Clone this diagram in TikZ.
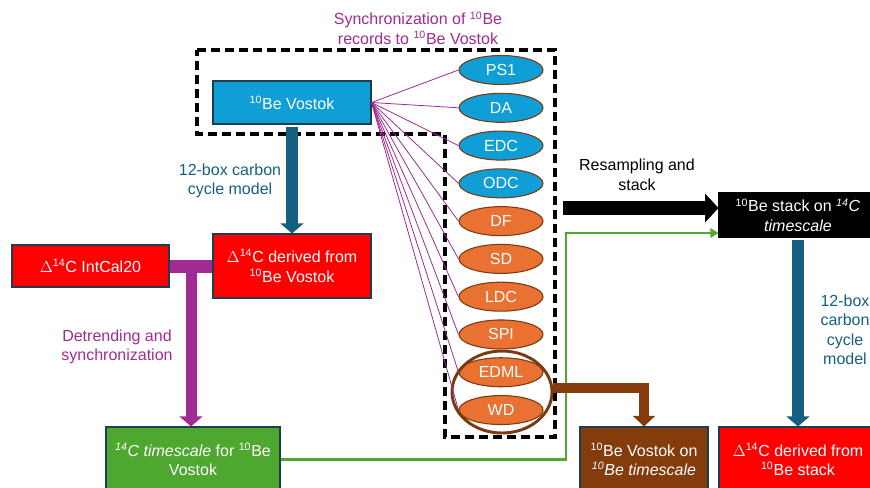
\documentclass[tikz,border=0pt]{standalone}
\usepackage{fontspec}
\setmainfont{Liberation Sans}
\usepackage{tikz}
\usetikzlibrary{arrows.meta,shapes.geometric,calc}
\definecolor{iceblue}{HTML}{0F9ED5}
\definecolor{iceorange}{HTML}{E97132}
\definecolor{modelteal}{HTML}{156082}
\definecolor{syncpurple}{HTML}{A02B93}
\definecolor{tsgreen}{HTML}{4EA72E}
\definecolor{vbrown}{HTML}{843C0C}
\definecolor{ringbrown}{HTML}{7A3A12}
\definecolor{boxedge}{HTML}{1E3D4F}
\tikzstyle{databox}=[draw=boxedge,line width=0.8pt,text=white,align=center,inner sep=0pt,minimum width=118.5pt]
\tikzstyle{core}=[ellipse,draw=ringbrown,line width=0.8pt,text=white,inner sep=0pt,minimum width=63pt,minimum height=21.75pt]
\tikzstyle{fat}=[line width=9pt,-{Triangle[length=7.5pt,width=17pt]}]

\begin{document}
\begin{tikzpicture}[x=0.75pt,y=-0.75pt,font=\fontsize{12}{14.6}\selectfont]
      \tikzset{syncline/.style = {draw=syncpurple,line width=0.6pt}}
      \useasboundingbox (0,0) rectangle (870,487);
      \clip (0,0) rectangle (870,487);
      % synchronization frame
      \draw[line width=2.6pt,dash pattern=on 6.5pt off 4pt]
        (197,50) -- (555,50) -- (555,437) -- (445,437) -- (445,134) -- (197,134) -- cycle;
      \node[text=syncpurple,align=center] (synclab) at (418,28) {Synchronization of \textsuperscript{10}Be\\records to \textsuperscript{10}Be Vostok};
      % boxes
      \node[databox,fill=iceblue,minimum height=32.25pt] (vostok) at (292,102.5) {\textsuperscript{10}Be Vostok};
      \node[databox,fill=red,minimum height=48pt] (dvostok) at (292,266) {$\Delta$\textsuperscript{14}C derived from\\\textsuperscript{10}Be Vostok};
      \node[databox,fill=red,minimum width=117.75pt,minimum height=31.5pt] (intcal) at (90.5,266) {$\Delta$\textsuperscript{14}C IntCal20};
      \node[databox,fill=tsgreen,minimum width=130.5pt,minimum height=48.75pt] (cts) at (193,459.5) {\textit{\textsuperscript{14}C timescale} for \textsuperscript{10}Be\\Vostok};
      \node[databox,fill=vbrown,minimum width=96pt,minimum height=48.75pt] (vbe) at (644,459.5) {\textsuperscript{10}Be Vostok on\\\textit{\textsuperscript{10}Be timescale}};
      \node[databox,fill=black,draw=black,minimum height=33pt] (stack) at (798,215) {\textsuperscript{10}Be stack on \textit{\textsuperscript{14}C}\\\textit{timescale}};
      \node[databox,fill=red,minimum height=48.75pt] (dstack) at (798,459.5) {$\Delta$\textsuperscript{14}C derived from\\\textsuperscript{10}Be stack};
      % ice cores
      \foreach \lab/\col [count=\i from 0] in {PS1/iceblue,DA/iceblue,EDC/iceblue,ODC/iceblue,DF/iceorange,SD/iceorange,LDC/iceorange,SPI/iceorange,EDML/iceorange,WD/iceorange}
        \node[core,fill=\col] (\lab) at (501,70+37.78*\i) {\lab};
      \node[ellipse,draw=ringbrown,line width=2.2pt,minimum width=75pt,minimum height=61.5pt] (pair) at (502,392) {};
      \foreach \lab in {PS1,DA,EDC,ODC,DF,SD,LDC,SPI,EDML,WD}
        \draw[syncline] (vostok.east) -- (\lab.west);
      % arrows
      \draw[fat,modelteal,shorten <=2pt] (vostok.south) -- (dvostok.north);
      \node[text=modelteal,align=center] (mod1) at (230,181) {12-box carbon\\cycle model};
      \coordinate (tee) at ($(intcal.east)!0.5!(dvostok.west)$);
      \draw[syncpurple,line width=9.75pt] (intcal.east) -- (dvostok.west);
      \draw[fat,syncpurple,line width=8.25pt] (tee) -- (tee |- cts.north);
      \node[text=syncpurple,align=center] (detr) at (117,347) {Detrending and\\synchronization};
      \coordinate (rs) at (563,208);
      \draw[line width=11pt,-{Triangle[length=10pt,width=21pt]}] (rs) -- (rs -| stack.west);
      \node[align=center] (resamp) at (637,175) {Resampling and\\stack};
      \coordinate (gturn) at (566,233);
      \draw[tsgreen,line width=2.2pt,-{Triangle[length=6pt,width=7pt]}] (cts.east) -| (gturn) -- (gturn -| stack.west);
      \draw[fat,modelteal,shorten <=1.5pt] (stack.south) -- (dstack.north);
      \node[text=modelteal,align=center] (mod2) at (845,330) {12-box\\carbon\\cycle\\model};
      \draw[fat,vbrown,line width=8pt,line join=miter,-{Triangle[length=8pt,width=16.5pt]}] ([yshift=3pt]pair.east) -| (vbe.north);
    \end{tikzpicture}
\end{document}
